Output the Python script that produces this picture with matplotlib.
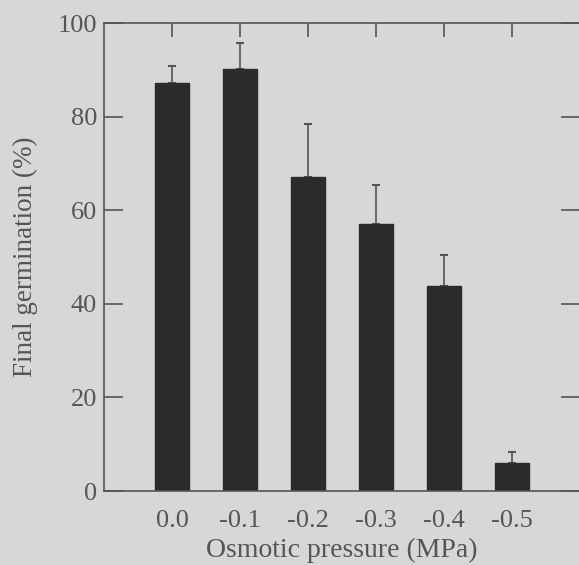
import matplotlib.pyplot as plt
import numpy as np

# Germination under osmotic stress
pressures = ["0.0", "-0.1", "-0.2", "-0.3", "-0.4", "-0.5"]
germination = [87.2, 90.1, 67.0, 57.0, 43.9, 5.9]
sd = [3.6, 5.7, 11.4, 8.4, 6.5, 2.4]

paper = "#d5d7d9"
ink = "#555555"
bar_col = "#2b2b2b"

plt.rcParams["font.family"] = ["Liberation Serif", "DejaVu Serif"]

fig = plt.figure(figsize=(5.79, 5.65), dpi=100, facecolor=paper)
# right spine sits just past the edge of the figure
ax = fig.add_axes([104 / 579, 1 - 491 / 565, 476 / 579, 468 / 565])
ax.set_facecolor(paper)

x = np.arange(len(pressures))
ax.bar(x, germination, width=0.5, color=bar_col, edgecolor=bar_col, zorder=2)
ax.errorbar(x, germination, yerr=[np.zeros(len(sd)), sd], fmt="none",
            ecolor=ink, elinewidth=1.2, capsize=3, capthick=1.5, zorder=1)

ax.set_xlim(-1, 6)
ax.set_ylim(0, 100)
ax.set_xticks(x)
ax.set_xticklabels(pressures)
ax.set_yticks([0, 20, 40, 60, 80, 100])

for s in ax.spines.values():
    s.set_color(ink)
    s.set_linewidth(1.2)

ax.tick_params(axis="x", direction="in", top=True, bottom=False, length=10,
               width=1.2, color=ink, labelcolor=ink, labelsize=19, pad=14)
ax.tick_params(axis="y", direction="in", right=True, length=14,
               width=1.2, color=ink, labelcolor=ink, labelsize=19, pad=5)

ax.set_xlabel("Osmotic pressure (MPa)", fontsize=20, color=ink, labelpad=4)
ax.set_ylabel("Final germination (%)", fontsize=19.5, color=ink, labelpad=14)

fig.savefig("out.png", dpi=100, facecolor=paper)
